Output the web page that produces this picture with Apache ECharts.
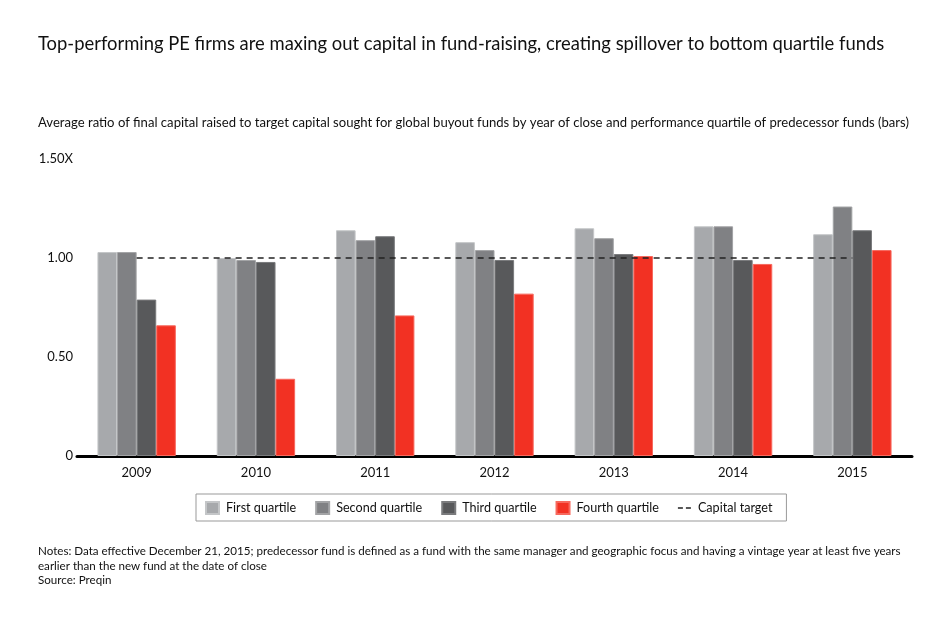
<!DOCTYPE html>
<html><head><meta charset="utf-8">
<script src="https://cdn.jsdelivr.net/npm/echarts@6/dist/echarts.min.js"></script>
<style>html,body{margin:0;padding:0;background:#fff}#c{width:950px;height:628px}</style>
</head><body><div id="c"></div>
<script>
const years = ['2009','2010','2011','2012','2013','2014','2015'];
const firstQuartile  = [1.03, 1.00, 1.14, 1.08, 1.15, 1.16, 1.12];
const secondQuartile = [1.03, 0.99, 1.09, 1.04, 1.10, 1.16, 1.26];
const thirdQuartile  = [0.79, 0.98, 1.11, 0.99, 1.02, 0.99, 1.14];
const fourthQuartile = [0.66, 0.39, 0.71, 0.82, 1.01, 0.97, 1.04];
const capitalTarget  = [1, 1, 1, 1, 1, 1, 1];
const yTicks = [0, 0.5, 1, 1.5];

const FONT = 'Lato';
const chart = echarts.init(document.getElementById('c'));
const barSeries = (name, data, color, border) => ({
  name, type: 'bar', data, barWidth: 19.6, barGap: '0%',
  itemStyle: { color, borderColor: border, borderWidth: 1 },
  z: 2
});
chart.setOption({
  animation: false,
  textStyle: { fontFamily: FONT },
  title: [
    { text: 'Top-performing PE firms are maxing out capital in fund-raising, creating spillover to bottom quartile funds',
      left: 38, top: 35, padding: 0, textStyle: { fontFamily: FONT, fontSize: 18.4, fontWeight: 'normal', color: '#111' } },
    { text: 'Average ratio of final capital raised to target capital sought for global buyout funds by year of close and performance quartile of predecessor funds (bars)',
      left: 38, top: 116, padding: 0, textStyle: { fontFamily: FONT, fontSize: 13.1, fontWeight: 'normal', color: '#111' } },
    { text: 'Notes: Data effective December 21, 2015; predecessor fund is defined as a fund with the same manager and geographic focus and having a vintage year at least five years\nearlier than the new fund at the date of close\nSource: Preqin',
      left: 38, top: 544, padding: 0, textStyle: { fontFamily: FONT, fontSize: 11.6, fontWeight: 'normal', color: '#111', lineHeight: 14.5 } }
  ],
  legend: {
    left: 196, top: 494,
    padding: [7, 14, 6, 9], borderColor: '#999', borderWidth: 1,
    itemWidth: 13, itemHeight: 12, itemGap: 19,
    textStyle: { fontFamily: FONT, fontSize: 12.6, color: '#111', padding: [0, 0, 0, 2] },
    data: [
      { name: 'First quartile', icon: 'rect' },
      { name: 'Second quartile', icon: 'rect' },
      { name: 'Third quartile', icon: 'rect' },
      { name: 'Fourth quartile', icon: 'rect' },
      { name: 'Capital target', icon: 'path://M0,5h5v1.6h-5z M8,5h5v1.6h-5z' }
    ]
  },
  grid: { left: 77, right: 38, top: 159, bottom: 172, containLabel: false },
  xAxis: {
    type: 'category', data: years,
    axisLine: { lineStyle: { color: '#000', width: 3 } },
    axisTick: { show: false },
    axisLabel: { fontFamily: FONT, fontSize: 13, color: '#111', margin: 10 }
  },
  yAxis: {
    type: 'value', min: 0, max: 1.5, interval: 0.5,
    splitLine: { show: false }, axisLine: { show: false }, axisTick: { show: false },
    axisLabel: { fontFamily: FONT, fontSize: 13, color: '#111', margin: 4,
      formatter: v => v === 0 ? '0' : (v === 1.5 ? v.toFixed(2) + 'X' : v.toFixed(2)) }
  },
  series: [
    barSeries('First quartile', firstQuartile, '#a7a9ac', '#c4c6c8'),
    barSeries('Second quartile', secondQuartile, '#808184', '#a3a4a6'),
    barSeries('Third quartile', thirdQuartile, '#58595b', '#7a7b7d'),
    barSeries('Fourth quartile', fourthQuartile, '#f23123', '#f7695e'),
    { name: 'Capital target', type: 'line', data: capitalTarget, symbol: 'none', z: 5,
      itemStyle: { color: '#222' },
      lineStyle: { color: '#222', width: 1.5, type: [6, 5] } }
  ]
});
</script></body></html>
